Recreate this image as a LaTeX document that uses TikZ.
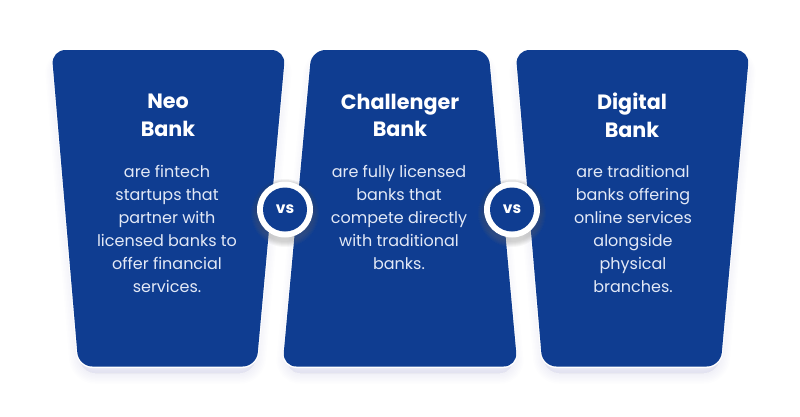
\documentclass[tikz,border=0pt]{standalone}
\usepackage{fontspec}
\setmainfont{Poppins}
\definecolor{cardblue}{HTML}{0F3D91}
\definecolor{bodytxt}{HTML}{E3E9F6}
\definecolor{shade}{HTML}{8FA3D8}
\tikzset{
  x=1pt,y=-1pt,
  card/.style={fill=cardblue,rounded corners=14pt},
  cardedge/.style={fill=white,rounded corners=15pt},
  halo/.style={fill=shade,fill opacity=0.016,draw=shade,draw opacity=0.016,rounded corners=14pt},
  title/.style={text=white,align=center,font=\fontsize{20.7}{27.5}\selectfont\bfseries,inner sep=0pt},
  body/.style={text=bodytxt,align=center,font=\fontsize{16}{23}\selectfont,inner sep=0pt},
  vsring/.style={circle,fill=white,minimum size=56pt,inner sep=0pt},
  vsdisc/.style={circle,fill=cardblue,minimum size=44pt,inner sep=0pt,text=white,font=\fontsize{15.5}{15.5}\selectfont\bfseries},
}
\newcommand{\softcard}[4]{%
  \foreach \w in {3,6,...,21}{
    \draw[halo,line width=\w pt] (#1,60) -- (#2,60) -- (#3,373) -- (#4,373) -- cycle;
  }
}
\newcommand{\softring}[1]{%
  \foreach \w in {29,30,...,34}{
    \fill[shade,opacity=0.03] (#1,213) circle[radius=\w pt];
  }
}
\begin{document}
\begin{tikzpicture}
\useasboundingbox (0,0) rectangle (800,416);
\fill[white] (0,0) rectangle (800,416);
\softcard{55}{282}{254}{81}
\softcard{315}{485}{514}{286}
\softcard{519}{746}{718}{545}
\fill[cardedge] (50.5,49) -- (286.5,49) -- (257.5,368) -- (77.5,368) -- cycle;
\fill[cardedge] (310.5,49) -- (489.5,49) -- (518.5,368) -- (281.5,368) -- cycle;
\fill[cardedge] (514.5,49) -- (750.5,49) -- (721.5,368) -- (541.5,368) -- cycle;
\fill[card] (51.5,50) -- (285.5,50) -- (256.5,366.5) -- (78.5,366.5) -- cycle;
\fill[card] (311.5,50) -- (488.5,50) -- (517.5,366.5) -- (282.5,366.5) -- cycle;
\fill[card] (515.5,50) -- (749.5,50) -- (720.5,366.5) -- (542.5,366.5) -- cycle;
\node[title] (t1) at (168,115.5) {Neo\\Bank};
\node[title] (t2) at (400,115.5) {Challenger\\Bank};
\node[title] (t3) at (632,115.5) {Digital\\Bank};
\node[body] (b1) at (167,229) {are fintech\\startups that\\partner with\\licensed banks to\\offer financial\\services.};
\node[body] (b2) at (399,217.5) {are fully licensed\\banks that\\compete directly\\with traditional\\banks.};
\node[body] (b3) at (633,229) {are traditional\\banks offering\\online services\\alongside\\physical\\branches.};
\softring{285}
\softring{512}
\node[vsring] (r1) at (285,209.5) {};
\node[vsring] (r2) at (512,209.5) {};
\node[vsdisc] (v1) at (285,209.5) {vs};
\node[vsdisc] (v2) at (512,209.5) {vs};
\end{tikzpicture}
\end{document}
